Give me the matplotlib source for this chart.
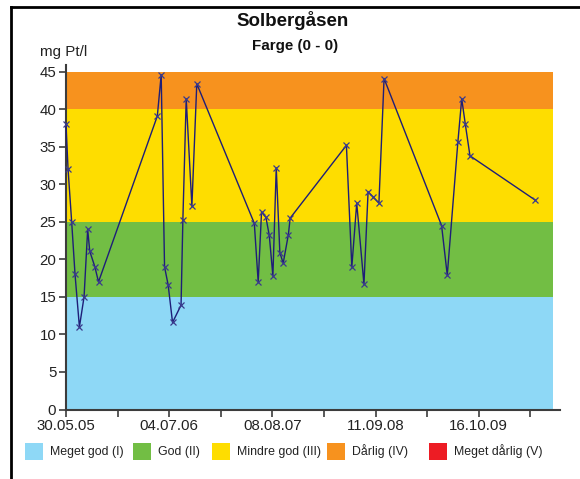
import datetime as dt
import matplotlib
matplotlib.use("Agg")
import matplotlib.pyplot as plt
import matplotlib.dates as mdates
from matplotlib.lines import Line2D
from matplotlib.patches import Rectangle
from matplotlib.ticker import FixedLocator, NullFormatter

plt.rcParams["font.family"] = ["Liberation Sans", "DejaVu Sans"]

# Sampling dates and colour measurements (mg Pt/l)
sample_dates = [
    "2005-05-30", "2005-06-07", "2005-06-21", "2005-07-04", "2005-07-21",
    "2005-08-08", "2005-08-22", "2005-08-30", "2005-09-19", "2005-10-03",
    "2006-05-19", "2006-06-03", "2006-06-16", "2006-06-30", "2006-07-17",
    "2006-08-19", "2006-08-26", "2006-09-08", "2006-09-30", "2006-10-19",
    "2007-05-30", "2007-06-14", "2007-06-27", "2007-07-14", "2007-07-27",
    "2007-08-10", "2007-08-23", "2007-09-06", "2007-09-19", "2007-10-09",
    "2007-10-16",
    "2008-05-21", "2008-06-11", "2008-06-30", "2008-07-28", "2008-08-13",
    "2008-09-02", "2008-09-24", "2008-10-14",
    "2009-05-25", "2009-06-16", "2009-07-27", "2009-08-11", "2009-08-25",
    "2009-09-12",
    "2010-05-23",
]
colour_values = [
    38.0, 32.0, 25.0, 18.0, 11.0, 15.0, 24.0, 21.1, 19.0, 17.0,
    39.1, 44.6, 19.0, 16.6, 11.6, 13.9, 25.2, 41.4, 27.1, 43.4,
    24.8, 17.0, 26.3, 25.6, 23.2, 17.8, 32.2, 20.9, 19.5, 23.3,
    25.5,
    35.2, 19.0, 27.5, 16.7, 29.0, 28.3, 27.5, 44.1,
    24.5, 17.9, 35.6, 41.4, 38.0, 33.8,
    27.9,
]

# Classification bands
class_labels = ["Meget god (I)", "God (II)", "Mindre god (III)", "Dårlig (IV)", "Meget dårlig (V)"]
class_colors = ["#8ED8F6", "#72BE44", "#FEDD00", "#F7921E", "#ED1C24"]
class_limits = [0, 15, 25, 40, 45]

title = "Solbergåsen"
subtitle = "Farge (0 - 0)"
unit_label = "mg Pt/l"

start = dt.date(2005, 5, 30)
band_end = start + dt.timedelta(days=1886)
axis_end = start + dt.timedelta(days=1915)

dates = [dt.date.fromisoformat(d) for d in sample_dates]

fig = plt.figure(figsize=(5.80, 4.79), dpi=100)
W, H = 580, 479
ax = fig.add_axes([66 / W, (H - 409.5) / H, (560 - 66) / W, (409.5 - 65) / H])

for i in range(len(class_limits) - 1):
    ax.fill_between([start, band_end], class_limits[i], class_limits[i + 1],
                    color=class_colors[i], linewidth=0, zorder=1)

ax.plot(dates, colour_values, color="#1E1E78", linewidth=1.0,
        marker="x", markersize=4.5, markeredgewidth=0.9,
        markeredgecolor="#3A3A8C", zorder=3, clip_on=False)

ax.set_xlim(start, axis_end)
ax.set_ylim(0, 45.9)
ax.set_yticks(range(0, 46, 5))

major = [start + dt.timedelta(days=400 * k) for k in range(5)]
minor = [start + dt.timedelta(days=200 + 400 * k) for k in range(5)]
ax.xaxis.set_major_locator(FixedLocator(mdates.date2num(major)))
ax.xaxis.set_minor_locator(FixedLocator(mdates.date2num(minor)))
ax.xaxis.set_major_formatter(mdates.DateFormatter("%d.%m.%y"))
ax.xaxis.set_minor_formatter(NullFormatter())

for s in ["top", "right"]:
    ax.spines[s].set_visible(False)
for s in ["left", "bottom"]:
    ax.spines[s].set_color("#3C3C3C")
    ax.spines[s].set_linewidth(1.5)

ax.tick_params(axis="both", which="both", direction="out", length=5,
               width=1.2, color="#3C3C3C", labelsize=10.8, labelcolor="#222222")
ax.tick_params(axis="x", which="major", pad=2)
ax.tick_params(axis="y", pad=2)

fig.text(293 / W, 1 - 20 / H, title, ha="center", va="center",
         fontsize=13.5, fontweight="bold", color="#111111")
fig.text(295 / W, 1 - 46 / H, subtitle, ha="center", va="center",
         fontsize=10.9, fontweight="bold", color="#111111")
fig.text(40 / W, 1 - 52 / H, unit_label, ha="left", va="center",
         fontsize=10.9, color="#222222")

# Legend of classes
legend_x = [25, 133, 212, 327, 429]
for x0, lab, col in zip(legend_x, class_labels, class_colors):
    fig.patches.append(Rectangle((x0 / W, 1 - 460 / H), 18 / W, 17 / H,
                                 transform=fig.transFigure, facecolor=col,
                                 edgecolor="none"))
    fig.text((x0 + 25) / W, 1 - 451.5 / H, lab, ha="left", va="center",
             fontsize=8.9, color="#222222")

# Frame around the figure (left and top edges)
fig.lines.append(Line2D([11 / W, 11 / W], [0, 1 - 7 / H], transform=fig.transFigure,
                        color="black", linewidth=2))
fig.lines.append(Line2D([11 / W, 1], [1 - 7 / H, 1 - 7 / H], transform=fig.transFigure,
                        color="black", linewidth=2))

fig.savefig("out.png", dpi=100, facecolor="white")
